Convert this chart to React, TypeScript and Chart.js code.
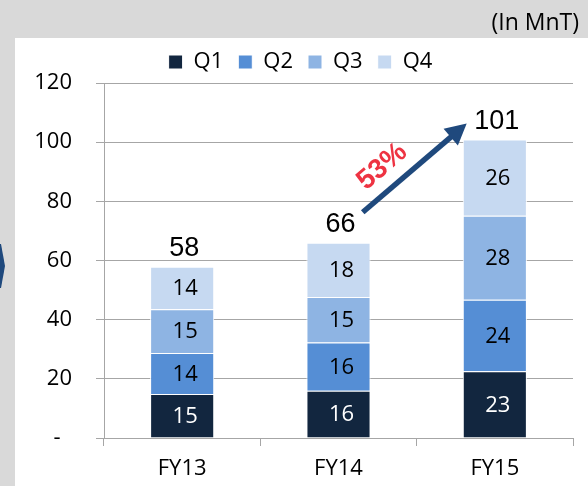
import React, { useEffect, useRef } from 'react';
import { Chart, registerables } from 'chart.js';

Chart.register(...registerables);

const categories = ['FY13', 'FY14', 'FY15'];
const seriesNames = ['Q1', 'Q2', 'Q3', 'Q4'];
const q1Values = [14.9, 16.0, 22.6];
const q2Values = [13.8, 16.3, 24.1];
const q3Values = [14.8, 15.4, 28.4];
const q4Values = [14.4, 18.3, 25.8];
const seriesColors = ['#12263F', '#558ED5', '#8EB4E3', '#C6D9F1'];
const labelColors = ['#FFFFFF', '#000000', '#000000', '#000000'];
const yMin = 0;
const yMax = 120;
const yStep = 20;
const growthText = '53%';
const unitText = '(In MnT)';

const allSeries = [q1Values, q2Values, q3Values, q4Values];
const totals = categories.map((_, i) => allSeries.reduce((s, arr) => s + arr[i], 0));

const decorPlugin = {
  id: 'decor',
  beforeDraw(chart: any) {
    const { ctx, width, height } = chart;
    ctx.save();
    ctx.fillStyle = '#D9D9D9';
    ctx.fillRect(0, 0, width, height);
    ctx.fillStyle = '#FFFFFF';
    ctx.fillRect(15, 38, width - 15, height - 38);
    // partial chevron at left edge
    ctx.fillStyle = '#1F497D';
    ctx.beginPath();
    ctx.moveTo(0, 244);
    ctx.lineTo(1, 244);
    ctx.lineTo(5, 266);
    ctx.lineTo(1, 288);
    ctx.lineTo(0, 288);
    ctx.closePath();
    ctx.fill();
    ctx.restore();
  },
  afterDatasetsDraw(chart: any) {
    const { ctx } = chart;
    ctx.save();
    ctx.textAlign = 'center';
    ctx.textBaseline = 'middle';
    ctx.font = '22px "Open Sans"';
    chart.data.datasets.forEach((ds: any, di: number) => {
      const meta = chart.getDatasetMeta(di);
      meta.data.forEach((el: any, i: number) => {
        ctx.fillStyle = labelColors[di];
        const v = ds.data[i];
        ctx.fillText(String(Math.round(v)), el.x + 3, (el.y + el.base) / 2 + 1);
      });
    });
    // totals
    const lastMeta = chart.getDatasetMeta(chart.data.datasets.length - 1);
    ctx.fillStyle = '#000000';
    ctx.font = '27px "Liberation Sans"';
    ctx.textBaseline = 'alphabetic';
    lastMeta.data.forEach((el: any, i: number) => {
      ctx.fillText(String(Math.round(totals[i])), el.x + 2, el.y - 11);
    });
    ctx.restore();
  },
  afterDraw(chart: any) {
    const { ctx, scales } = chart;
    const xs = scales.x;
    const ys = scales.y;
    ctx.save();
    // arrow
    const x0 = xs.getPixelForValue(1.155);
    const y0 = ys.getPixelForValue(76.3);
    const x1 = xs.getPixelForValue(1.82);
    const y1 = ys.getPixelForValue(106.3);
    const ang = Math.atan2(y1 - y0, x1 - x0);
    const headLen = 21;
    const headHalf = 11;
    const bx = x1 - headLen * Math.cos(ang);
    const by = y1 - headLen * Math.sin(ang);
    ctx.strokeStyle = '#1F497D';
    ctx.fillStyle = '#1F497D';
    ctx.lineWidth = 5.5;
    ctx.lineCap = 'butt';
    ctx.beginPath();
    ctx.moveTo(x0, y0);
    ctx.lineTo(bx + 2 * Math.cos(ang), by + 2 * Math.sin(ang));
    ctx.stroke();
    ctx.beginPath();
    ctx.moveTo(x1, y1);
    ctx.lineTo(bx - headHalf * Math.sin(ang), by + headHalf * Math.cos(ang));
    ctx.lineTo(bx + headHalf * Math.sin(ang), by - headHalf * Math.cos(ang));
    ctx.closePath();
    ctx.fill();
    // growth text
    const mx = (x0 + x1) / 2;
    const my = (y0 + y1) / 2;
    const dx = Math.cos(ang);
    const dy = Math.sin(ang);
    const px = dy;
    const py = -dx;
    const tx = mx - 24 * dx + 22 * px;
    const ty = my - 24 * dy + 22 * py;
    ctx.translate(tx, ty);
    ctx.rotate(ang);
    ctx.fillStyle = '#EE3342';
    ctx.font = 'bold 28px "Liberation Sans"';
    ctx.textAlign = 'center';
    ctx.textBaseline = 'middle';
    ctx.fillText(growthText, 0, 0);
    ctx.setTransform(1, 0, 0, 1, 0, 0);
    // unit text
    ctx.fillStyle = '#000000';
    ctx.font = '23px "Open Sans"';
    ctx.textAlign = 'right';
    ctx.textBaseline = 'alphabetic';
    ctx.fillText(unitText, 579, 30);
    ctx.restore();
  },
};

export default function App() {
  const canvasRef = useRef<HTMLCanvasElement | null>(null);

  useEffect(() => {
    const canvas = canvasRef.current;
    if (!canvas) return;
    const chart = new Chart(canvas, {
      type: 'bar',
      data: {
        labels: categories,
        datasets: allSeries.map((vals, i) => ({
          label: seriesNames[i],
          data: vals,
          backgroundColor: seriesColors[i],
          borderColor: '#FFFFFF',
          borderWidth: 1,
          barPercentage: 0.41,
          categoryPercentage: 1,
        })),
      },
      options: {
        responsive: false,
        animation: false,
        devicePixelRatio: 1,
        layout: { padding: { left: 28, right: 15, top: 36, bottom: 0 } },
        plugins: {
          legend: {
            display: true,
            position: 'top',
            labels: {
              boxWidth: 14,
              boxHeight: 14,
              padding: 15,
              color: '#000000',
              font: { family: '"Open Sans"', size: 22 },
            },
          },
          tooltip: { enabled: false },
        },
        scales: {
          x: {
            stacked: true,
            afterFit(scale: any) {
              scale.height = 48;
            },
            grid: {
              display: true,
              drawOnChartArea: false,
              drawTicks: true,
              tickLength: 8,
              color: '#A6A6A6',
              offset: true,
            },
            border: { display: true, color: '#A6A6A6', width: 1 },
            ticks: {
              color: '#000000',
              padding: 10,
              font: { family: '"Open Sans"', size: 22 },
            },
          },
          y: {
            stacked: true,
            min: yMin,
            max: yMax,
            afterFit(scale: any) {
              scale.width = 76;
            },
            grid: {
              display: true,
              drawOnChartArea: true,
              drawTicks: true,
              tickLength: 8,
              color: '#A6A6A6',
            },
            border: { display: true, color: '#A6A6A6', width: 1 },
            ticks: {
              stepSize: yStep,
              color: '#000000',
              padding: 24,
              font: { family: '"Open Sans"', size: 22 },
              callback: (v: any) => (Number(v) === 0 ? '-  ' : String(v)),
            },
          },
        },
      },
      plugins: [decorPlugin],
    });
    return () => chart.destroy();
  }, []);

  return (
    <div style={{ position: 'fixed', left: 0, top: 0, width: 588, height: 486 }}>
      <canvas ref={canvasRef} width={588} height={486} style={{ display: 'block', width: 588, height: 486 }} />
    </div>
  );
}
